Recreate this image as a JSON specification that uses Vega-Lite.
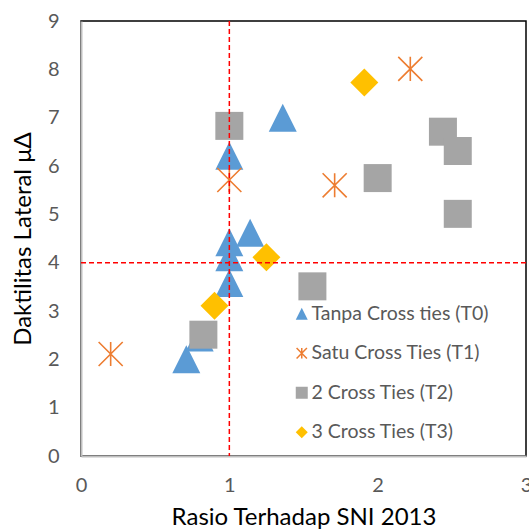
{
  "$schema": "https://vega.github.io/schema/vega-lite/v6.json",
  "width": 445,
  "height": 435,
  "autosize": {"type": "none"},
  "padding": {"left": 81, "top": 21, "right": 3, "bottom": 74},
  "background": "#ffffff",
  "config": {
    "font": "Lato",
    "view": {"stroke": "#000000", "strokeWidth": 1.5},
    "axis": {
      "labelFont": "Lato",
      "labelFontSize": 20,
      "labelColor": "#595959",
      "titleFont": "Lato",
      "titleFontSize": 24,
      "titleColor": "#000000",
      "titleFontWeight": "normal",
      "grid": false,
      "ticks": false,
      "domainColor": "#BFBFBF",
      "domainWidth": 2
    },
    "legend": {
      "orient": "none",
      "legendX": 211,
      "legendY": 283,
      "padding": 0,
      "symbolSize": 144,
      "labelFont": "Lato",
      "labelFontSize": 19.5,
      "labelColor": "#595959",
      "labelOffset": 0,
      "labelLimit": 400,
      "rowPadding": 18.5,
      "symbolStrokeWidth": 1.5
    }
  },
  "layer": [
    {
      "data": {
        "values": [
          {"series": "Tanpa Cross ties (T0)", "x": 0.71, "y": 2.0},
          {"series": "Tanpa Cross ties (T0)", "x": 0.8, "y": 2.45},
          {"series": "Tanpa Cross ties (T0)", "x": 1.0, "y": 3.58},
          {"series": "Tanpa Cross ties (T0)", "x": 1.0, "y": 4.11},
          {"series": "Tanpa Cross ties (T0)", "x": 1.0, "y": 4.42},
          {"series": "Tanpa Cross ties (T0)", "x": 1.14, "y": 4.62},
          {"series": "Tanpa Cross ties (T0)", "x": 1.0, "y": 6.21},
          {"series": "Tanpa Cross ties (T0)", "x": 1.36, "y": 7.0},
          {"series": "Satu Cross Ties (T1)", "x": 0.2, "y": 2.11},
          {"series": "Satu Cross Ties (T1)", "x": 1.0, "y": 5.71},
          {"series": "Satu Cross Ties (T1)", "x": 1.71, "y": 5.6},
          {"series": "Satu Cross Ties (T1)", "x": 2.22, "y": 8.01},
          {"series": "2 Cross Ties (T2)", "x": 0.825, "y": 2.51},
          {"series": "2 Cross Ties (T2)", "x": 1.0, "y": 6.83},
          {"series": "2 Cross Ties (T2)", "x": 1.56, "y": 3.51},
          {"series": "2 Cross Ties (T2)", "x": 2.0, "y": 5.75},
          {"series": "2 Cross Ties (T2)", "x": 2.44, "y": 6.71},
          {"series": "2 Cross Ties (T2)", "x": 2.54, "y": 6.31},
          {"series": "2 Cross Ties (T2)", "x": 2.54, "y": 5.01},
          {"series": "3 Cross Ties (T3)", "x": 0.9, "y": 3.11},
          {"series": "3 Cross Ties (T3)", "x": 1.25, "y": 4.11},
          {"series": "3 Cross Ties (T3)", "x": 1.91, "y": 7.73}
        ]
      },
      "mark": {"type": "point", "filled": true, "opacity": 1, "strokeWidth": 1.6, "size": 784},
      "encoding": {
        "x": {
          "field": "x",
          "type": "quantitative",
          "title": "Rasio Terhadap SNI 2013",
          "scale": {"domain": [0, 3], "nice": false, "zero": false},
          "axis": {"values": [0, 1, 2, 3], "format": "d", "labelFlush": false, "labelPadding": 19, "titlePadding": 10}
        },
        "y": {
          "field": "y",
          "type": "quantitative",
          "title": "Daktilitas Lateral μΔ",
          "scale": {"domain": [0, 9], "nice": false, "zero": false},
          "axis": {"values": [0, 1, 2, 3, 4, 5, 6, 7, 8, 9], "format": "d", "labelFlush": false, "labelPadding": 22, "titlePadding": 12}
        },
        "shape": {
          "field": "series",
          "type": "nominal",
          "sort": null,
          "title": null,
          "scale": {
            "domain": ["Tanpa Cross ties (T0)", "Satu Cross Ties (T1)", "2 Cross Ties (T2)", "3 Cross Ties (T3)"],
            "range": ["M0,-1L-1,1L1,1Z", "M0,-0.86L0,0.86M-0.86,-0.86L0.86,0.86M-0.86,0.86L0.86,-0.86", "square", "diamond"]
          }
        },
        "fill": {
          "field": "series",
          "type": "nominal",
          "sort": null,
          "title": null,
          "scale": {
            "domain": ["Tanpa Cross ties (T0)", "Satu Cross Ties (T1)", "2 Cross Ties (T2)", "3 Cross Ties (T3)"],
            "range": ["#5B9BD5", "#ED7D31", "#A5A5A5", "#FFC000"]
          }
        },
        "stroke": {
          "field": "series",
          "type": "nominal",
          "sort": null,
          "title": null,
          "scale": {
            "domain": ["Tanpa Cross ties (T0)", "Satu Cross Ties (T1)", "2 Cross Ties (T2)", "3 Cross Ties (T3)"],
            "range": ["rgba(0,0,0,0)", "#ED7D31", "rgba(0,0,0,0)", "rgba(0,0,0,0)"]
          }
        }
      }
    },
    {
      "data": {"values": [{"x": 1}]},
      "mark": {"type": "rule", "color": "#FF0000", "strokeWidth": 1.5, "strokeDash": [5, 3]},
      "encoding": {"x": {"field": "x", "type": "quantitative", "title": "Rasio Terhadap SNI 2013"}}
    },
    {
      "data": {"values": [{"y": 4}]},
      "mark": {"type": "rule", "color": "#FF0000", "strokeWidth": 1.5, "strokeDash": [5, 3]},
      "encoding": {"y": {"field": "y", "type": "quantitative", "title": "Daktilitas Lateral μΔ"}}
    }
  ]
}
